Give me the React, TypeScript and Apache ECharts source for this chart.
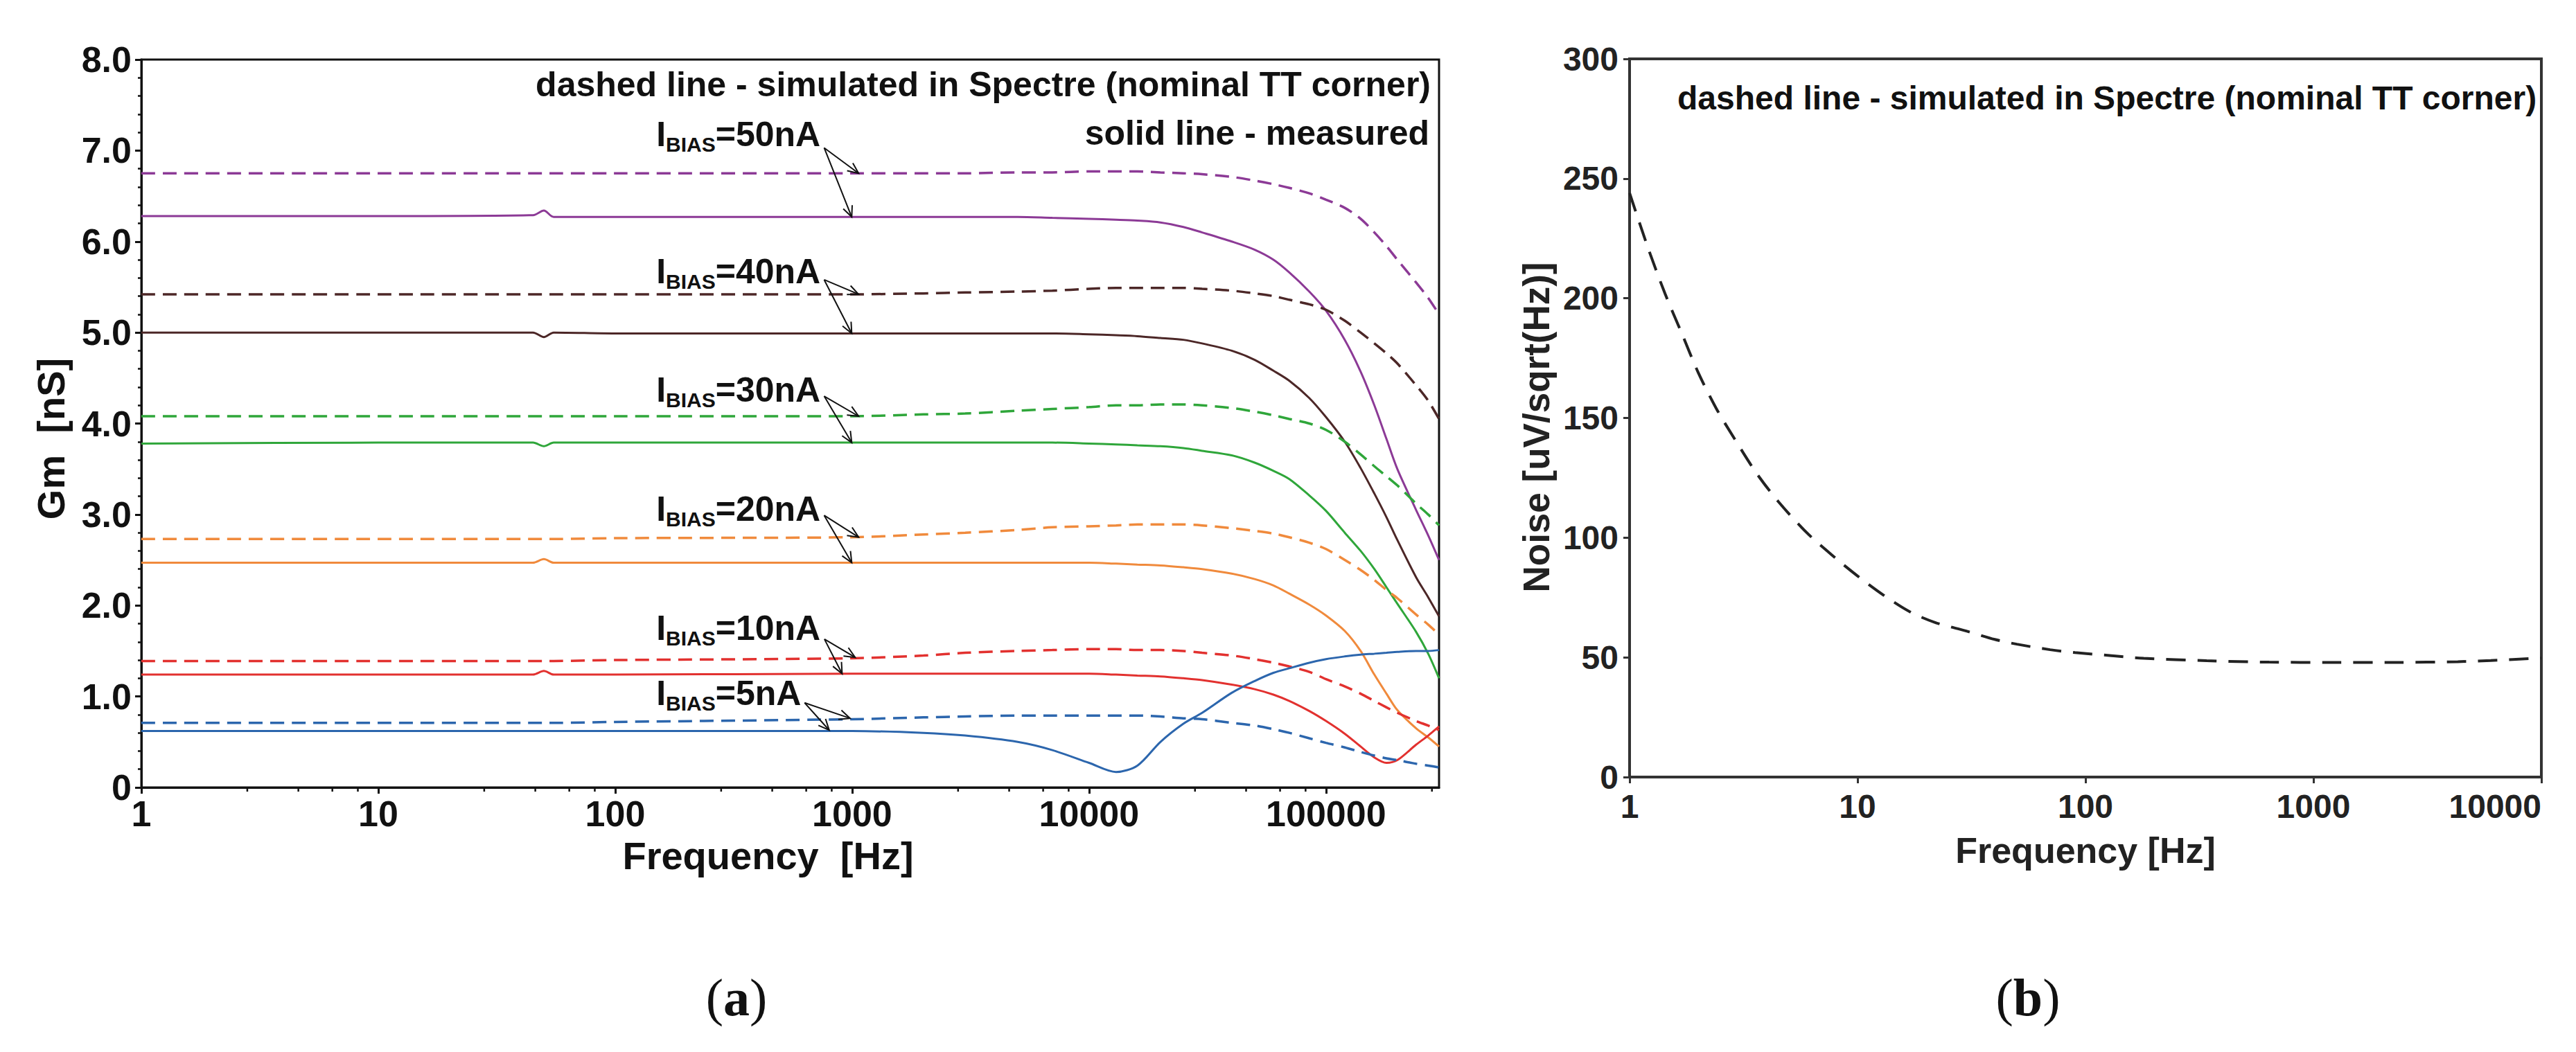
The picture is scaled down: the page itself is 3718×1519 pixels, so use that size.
import React, { useEffect, useRef } from 'react';
import * as echarts from 'echarts';

const W = 3718;
const H = 1519;
const FONT = "'Liberation Sans', Arial, Helvetica, sans-serif";
const SERIF = "'Palatino Linotype', 'Book Antiqua', Palatino, 'Liberation Serif', 'DejaVu Serif', serif";

// ---------- (a) Gm vs frequency ----------
const freqGm = [1, 10, 45, 50, 55, 100, 1000, 2000, 3000, 5000, 7000, 10000, 13000, 16000, 20000, 25000, 30000, 40000, 50000, 60000, 70000, 85000, 100000, 120000, 140000, 160000, 180000, 200000, 240000, 270000, 300000];

const sim50 = [6.75, 6.75, 6.75, 6.75, 6.75, 6.75, 6.75, 6.75, 6.75, 6.76, 6.76, 6.77, 6.77, 6.77, 6.76, 6.75, 6.74, 6.71, 6.67, 6.63, 6.59, 6.53, 6.46, 6.37, 6.25, 6.10, 5.95, 5.80, 5.55, 5.38, 5.20];
const meas50 = [6.28, 6.28, 6.29, 6.34, 6.27, 6.27, 6.27, 6.27, 6.27, 6.27, 6.26, 6.25, 6.24, 6.23, 6.21, 6.16, 6.10, 6.00, 5.91, 5.80, 5.66, 5.45, 5.24, 4.92, 4.57, 4.20, 3.83, 3.50, 3.05, 2.77, 2.50];
const sim40 = [5.42, 5.42, 5.42, 5.42, 5.42, 5.42, 5.42, 5.43, 5.44, 5.45, 5.46, 5.48, 5.49, 5.49, 5.49, 5.49, 5.48, 5.46, 5.43, 5.40, 5.36, 5.31, 5.25, 5.13, 5.00, 4.88, 4.77, 4.66, 4.42, 4.25, 4.05];
const meas40 = [5.00, 5.00, 5.00, 4.95, 5.00, 4.99, 4.99, 4.99, 4.99, 4.99, 4.99, 4.98, 4.97, 4.96, 4.94, 4.92, 4.88, 4.80, 4.70, 4.58, 4.47, 4.28, 4.07, 3.80, 3.51, 3.23, 2.97, 2.72, 2.31, 2.09, 1.88];
const sim30 = [4.08, 4.08, 4.08, 4.08, 4.08, 4.08, 4.08, 4.10, 4.11, 4.14, 4.16, 4.18, 4.20, 4.20, 4.21, 4.21, 4.20, 4.17, 4.13, 4.09, 4.05, 4.00, 3.93, 3.80, 3.66, 3.53, 3.42, 3.32, 3.12, 3.00, 2.88];
const meas30 = [3.78, 3.79, 3.79, 3.75, 3.79, 3.79, 3.79, 3.79, 3.79, 3.79, 3.79, 3.78, 3.77, 3.76, 3.75, 3.73, 3.70, 3.65, 3.57, 3.48, 3.39, 3.21, 3.04, 2.80, 2.60, 2.40, 2.20, 2.02, 1.71, 1.47, 1.20];
const sim20 = [2.73, 2.73, 2.73, 2.73, 2.73, 2.74, 2.75, 2.78, 2.80, 2.83, 2.86, 2.87, 2.88, 2.89, 2.89, 2.89, 2.88, 2.85, 2.82, 2.79, 2.75, 2.69, 2.62, 2.50, 2.39, 2.28, 2.17, 2.08, 1.90, 1.79, 1.68];
const meas20 = [2.47, 2.47, 2.47, 2.51, 2.47, 2.47, 2.47, 2.47, 2.47, 2.47, 2.47, 2.47, 2.46, 2.45, 2.44, 2.42, 2.40, 2.35, 2.29, 2.22, 2.13, 2.01, 1.89, 1.72, 1.50, 1.24, 1.03, 0.85, 0.65, 0.55, 0.45];
const sim10 = [1.39, 1.39, 1.39, 1.39, 1.39, 1.40, 1.42, 1.45, 1.48, 1.50, 1.51, 1.52, 1.52, 1.51, 1.51, 1.50, 1.48, 1.45, 1.41, 1.37, 1.33, 1.27, 1.19, 1.11, 1.03, 0.95, 0.88, 0.82, 0.73, 0.68, 0.63];
const meas10 = [1.24, 1.24, 1.24, 1.28, 1.24, 1.24, 1.25, 1.25, 1.25, 1.25, 1.25, 1.25, 1.24, 1.23, 1.22, 1.20, 1.18, 1.13, 1.08, 1.02, 0.95, 0.84, 0.73, 0.59, 0.45, 0.33, 0.27, 0.30, 0.47, 0.57, 0.67];
const sim5 = [0.71, 0.71, 0.71, 0.71, 0.71, 0.72, 0.75, 0.77, 0.78, 0.79, 0.79, 0.79, 0.79, 0.79, 0.78, 0.76, 0.75, 0.71, 0.68, 0.64, 0.60, 0.54, 0.49, 0.44, 0.39, 0.35, 0.32, 0.30, 0.26, 0.24, 0.22];
const meas5 = [0.62, 0.62, 0.62, 0.62, 0.62, 0.62, 0.62, 0.60, 0.57, 0.50, 0.41, 0.27, 0.17, 0.24, 0.50, 0.70, 0.82, 1.04, 1.17, 1.26, 1.31, 1.37, 1.41, 1.44, 1.46, 1.47, 1.48, 1.49, 1.50, 1.50, 1.51];

const gmYTicks = [0, 1, 2, 3, 4, 5, 6, 7, 8];
const gmXTicks = [1, 10, 100, 1000, 10000, 100000];
const minorMantissa = [2.8, 4.6, 6.4, 8.2];

const PURPLE = '#8c3a96';
const BROWN = '#4c2727';
const GREEN = '#2fa63a';
const ORANGE = '#f08a3c';
const RED = '#e2312f';
const BLUE = '#2c66ad';

const gmSeries = [
  { name: 'sim 50nA', data: sim50, color: PURPLE, dashed: true },
  { name: 'meas 50nA', data: meas50, color: PURPLE, dashed: false },
  { name: 'sim 40nA', data: sim40, color: BROWN, dashed: true },
  { name: 'meas 40nA', data: meas40, color: BROWN, dashed: false },
  { name: 'sim 30nA', data: sim30, color: GREEN, dashed: true },
  { name: 'meas 30nA', data: meas30, color: GREEN, dashed: false },
  { name: 'sim 20nA', data: sim20, color: ORANGE, dashed: true },
  { name: 'meas 20nA', data: meas20, color: ORANGE, dashed: false },
  { name: 'sim 10nA', data: sim10, color: RED, dashed: true },
  { name: 'meas 10nA', data: meas10, color: RED, dashed: false },
  { name: 'sim 5nA', data: sim5, color: BLUE, dashed: true },
  { name: 'meas 5nA', data: meas5, color: BLUE, dashed: false },
];

// annotation anchors (data coordinates)
const biasLabels = ['50nA', '40nA', '30nA', '20nA', '10nA', '5nA'];
const labelFreq = 149;
const labelBaseline = [7.05, 5.54, 4.24, 2.93, 1.62, 0.905];
const arrowStart = [[762, 7.03], [762, 5.58], [762, 4.30], [762, 2.99], [764, 1.63], [630, 0.93]];
const arrowTipDashed = [[1065, 6.75], [1065, 5.42], [1065, 4.08], [1065, 2.75], [1030, 1.43], [980, 0.76]];
const arrowTipSolid = [[996, 6.27], [996, 4.99], [996, 3.79], [996, 2.47], [907, 1.25], [800, 0.63]];

// ---------- (b) Noise vs frequency ----------
const noiseF = [1, 1.2, 1.43, 1.7, 2, 2.4, 2.9, 3.6, 4.5, 6, 8, 10, 13, 17, 22, 30, 40, 50, 70, 90, 130, 180, 340, 640, 1200, 2300, 4300, 6000, 10000];
const noiseV = [244, 221.5, 202, 185, 169, 154, 141, 127, 115, 102, 91.5, 84, 76, 69, 64.5, 61, 57.5, 55.5, 53.2, 52, 50.7, 49.6, 48.6, 48.0, 47.9, 47.9, 48.2, 48.7, 49.7];
const noiseYTicks = [0, 50, 100, 150, 200, 250, 300];

// layout
const G0 = { left: 204, top: 86, width: 1873, height: 1051 };
const G1 = { left: 2352, top: 85, width: 1316, height: 1037 };

function buildOption(): any {
  const minorTicks: number[][] = [];
  gmXTicks.forEach((d) => minorMantissa.forEach((m) => { const f = d * m; if (f <= 300000) minorTicks.push([f, 0]); }));

  const lineSeries = gmSeries.map((s) => ({
    type: 'line',
    name: s.name,
    xAxisIndex: 0,
    yAxisIndex: 0,
    data: freqGm.map((f, i) => [f, s.data[i]]),
    showSymbol: false,
    symbol: 'none',
    smooth: 0.3,
    lineStyle: { color: s.color, width: s.dashed ? 3.5 : 3, type: s.dashed ? [20, 11] : 'solid' },
    itemStyle: { color: s.color },
    z: 3,
  }));

  return {
    animation: false,
    backgroundColor: '#ffffff',
    textStyle: { fontFamily: FONT },
    grid: [
      { ...G0, show: true, borderColor: '#111', borderWidth: 3, backgroundColor: 'transparent', containLabel: false, outerBoundsMode: 'none' },
      { ...G1, show: true, borderColor: '#333', borderWidth: 4, backgroundColor: 'transparent', containLabel: false, outerBoundsMode: 'none' },
    ],
    xAxis: [
      {
        gridIndex: 0,
        type: 'log',
        logBase: 10,
        min: gmXTicks[0],
        max: 300000,
        name: 'Frequency  [Hz]',
        nameLocation: 'middle',
        nameGap: 70,
        nameTextStyle: { fontSize: 56, fontWeight: 'bold', color: '#111', fontFamily: FONT, padding: [0, 64, 0, 0] },
        axisLine: { show: true, lineStyle: { color: '#111', width: 3 } },
        axisTick: { show: true, length: 9, lineStyle: { color: '#111', width: 3 } },
        minorTick: { show: false },
        splitLine: { show: false },
        axisLabel: {
          fontSize: 52, fontWeight: 'bold', color: '#111', fontFamily: FONT, margin: 12,
          showMaxLabel: false,
          formatter: (v: number) => String(Math.round(v)),
        },
      },
      {
        gridIndex: 1,
        type: 'log',
        logBase: 10,
        min: 1,
        max: 10000,
        name: 'Frequency [Hz]',
        nameLocation: 'middle',
        nameGap: 80,
        nameTextStyle: { fontSize: 52, fontWeight: 'bold', color: '#222', fontFamily: FONT },
        axisLine: { show: true, lineStyle: { color: '#333', width: 4 } },
        axisTick: { show: true, length: 9, lineStyle: { color: '#333', width: 3 } },
        splitLine: { show: false },
        axisLabel: {
          fontSize: 48, fontWeight: 'bold', color: '#222', fontFamily: FONT, margin: 18,
          alignMaxLabel: 'right',
          formatter: (v: number) => String(Math.round(v)),
        },
      },
    ],
    yAxis: [
      {
        gridIndex: 0,
        type: 'value',
        min: gmYTicks[0],
        max: gmYTicks[gmYTicks.length - 1],
        interval: 1,
        name: 'Gm  [nS]',
        nameLocation: 'middle',
        nameGap: 103,
        nameRotate: 90,
        nameTextStyle: { fontSize: 56, fontWeight: 'bold', color: '#111', fontFamily: FONT, padding: [0, 44, 0, 0] },
        axisLine: { show: true, lineStyle: { color: '#111', width: 3 } },
        axisTick: { show: true, length: 9, lineStyle: { color: '#111', width: 3 } },
        minorTick: { show: true, splitNumber: 5, length: 5, lineStyle: { color: '#111', width: 2.5 } },
        splitLine: { show: false },
        minorSplitLine: { show: false },
        axisLabel: {
          fontSize: 52, fontWeight: 'bold', color: '#111', fontFamily: FONT, margin: 14,
          formatter: (v: number) => (v === 0 ? '0' : v.toFixed(1)),
        },
      },
      {
        gridIndex: 1,
        type: 'value',
        min: noiseYTicks[0],
        max: noiseYTicks[noiseYTicks.length - 1],
        interval: 50,
        name: 'Noise [uV/sqrt(Hz)]',
        nameLocation: 'middle',
        nameGap: 108,
        nameRotate: 90,
        nameTextStyle: { fontSize: 53, fontWeight: 'bold', color: '#222', fontFamily: FONT, padding: [0, 27, 0, 0] },
        axisLine: { show: true, lineStyle: { color: '#333', width: 4 } },
        axisTick: { show: true, length: 9, lineStyle: { color: '#333', width: 3 } },
        splitLine: { show: false },
        axisLabel: { fontSize: 48, fontWeight: 'bold', color: '#222', fontFamily: FONT, margin: 16 },
      },
    ],
    series: [
      ...lineSeries,
      {
        type: 'custom',
        name: 'minor ticks',
        xAxisIndex: 0,
        yAxisIndex: 0,
        silent: true,
        clip: false,
        z: 6,
        data: minorTicks,
        renderItem: (_p: any, api: any) => {
          const pt = api.coord([api.value(0), 0]);
          return {
            type: 'line',
            shape: { x1: pt[0], y1: pt[1], x2: pt[0], y2: pt[1] + 6 },
            style: { stroke: '#111', lineWidth: 2.5 },
          };
        },
      },
      {
        type: 'line',
        name: 'Noise simulated',
        xAxisIndex: 1,
        yAxisIndex: 1,
        data: noiseF.map((f, i) => [f, noiseV[i]]),
        showSymbol: false,
        symbol: 'none',
        smooth: 0.3,
        lineStyle: { color: '#222', width: 4, type: [28, 17] },
        itemStyle: { color: '#222' },
      },
    ],
  };
}

function arrowParts(p0: number[], p1: number[]): any[] {
  const ang = Math.atan2(p1[1] - p0[1], p1[0] - p0[0]);
  const L = 17;
  const a = 0.42;
  const h1 = [p1[0] - L * Math.cos(ang - a), p1[1] - L * Math.sin(ang - a)];
  const h2 = [p1[0] - L * Math.cos(ang + a), p1[1] - L * Math.sin(ang + a)];
  return [
    { type: 'line', z: 100, silent: true, shape: { x1: p0[0], y1: p0[1], x2: p1[0], y2: p1[1] }, style: { stroke: '#111', lineWidth: 2 } },
    { type: 'polyline', z: 100, silent: true, shape: { points: [h1, p1, h2] }, style: { stroke: '#111', lineWidth: 2, fill: null } },
  ];
}

function buildGraphics(chart: any): any[] {
  const px = (g: number, pt: number[]) => chart.convertToPixel({ gridIndex: g }, pt) as number[];
  const els: any[] = [];

  biasLabels.forEach((lab, i) => {
    const base = px(0, [labelFreq, labelBaseline[i]]);
    els.push({
      type: 'text',
      z: 100,
      silent: true,
      x: base[0],
      y: base[1] - 17.3,
      style: {
        text: `{m|I}{s|BIAS}{m|=${lab}}`,
        fontFamily: FONT,
        fontSize: 50,
        fontWeight: 'bold',
        fill: '#111',
        align: 'left',
        verticalAlign: 'middle',
        rich: {
          m: { fontSize: 50, fontWeight: 'bold', fontFamily: FONT, fill: '#111', lineHeight: 60, verticalAlign: 'middle' },
          s: { fontSize: 30, fontWeight: 'bold', fontFamily: FONT, fill: '#111', lineHeight: 25, verticalAlign: 'bottom' },
        },
      },
    });
    const s0 = px(0, arrowStart[i]);
    els.push(...arrowParts(s0, px(0, arrowTipDashed[i])));
    els.push(...arrowParts(s0, px(0, arrowTipSolid[i])));
  });

  const rightA = G0.left + G0.width - 12;
  els.push({
    type: 'text', z: 100, silent: true, x: rightA, y: 139 - 17.3,
    style: { text: 'dashed line - simulated in Spectre (nominal TT corner)', fontFamily: FONT, fontSize: 50, fontWeight: 'bold', fill: '#111', align: 'right', verticalAlign: 'middle' },
  });
  els.push({
    type: 'text', z: 100, silent: true, x: rightA - 2, y: 209 - 17.3,
    style: { text: 'solid line - measured', fontFamily: FONT, fontSize: 50, fontWeight: 'bold', fill: '#111', align: 'right', verticalAlign: 'middle' },
  });
  els.push({
    type: 'text', z: 100, silent: true, x: G1.left + 69, y: 158 - 16.6,
    style: { text: 'dashed line - simulated in Spectre (nominal TT corner)', fontFamily: FONT, fontSize: 48, fontWeight: 'bold', fill: '#111', align: 'left', verticalAlign: 'middle' },
  });

  const capRich = (letter: string) => ({
    text: `{p|(}{b|${letter}}{p|)}`,
    fontFamily: SERIF,
    fontSize: 76,
    fill: '#111',
    align: 'center',
    verticalAlign: 'middle',
    rich: {
      p: { fontSize: 76, fontFamily: SERIF, fill: '#111' },
      b: { fontSize: 76, fontFamily: SERIF, fontWeight: 'bold', fill: '#111' },
    },
  });
  els.push({ type: 'text', z: 100, silent: true, x: 1063, y: 1440, style: capRich('a') });
  els.push({ type: 'text', z: 100, silent: true, x: 2927, y: 1440, style: capRich('b') });

  return els;
}

export default function App() {
  const ref = useRef<HTMLDivElement>(null);
  useEffect(() => {
    const el = ref.current;
    if (!el) return;
    const chart = echarts.init(el, null, { renderer: 'svg', width: W, height: H });
    chart.setOption(buildOption());
    chart.setOption({ graphic: buildGraphics(chart) });
    return () => {
      chart.dispose();
    };
  }, []);
  return (
    <div
      ref={ref}
      style={{ position: 'fixed', left: 0, top: 0, width: W, height: H, background: '#ffffff' }}
    />
  );
}
